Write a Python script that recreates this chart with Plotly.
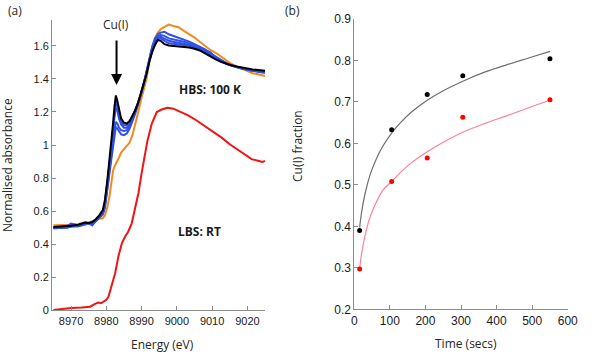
import plotly.graph_objects as go

# ---- panel (a): Cu K-edge XANES ----
energy_hbs = [8965, 8967, 8969, 8970, 8972, 8974, 8975, 8976, 8977, 8978, 8979, 8979.6, 8980.3, 8980.9,
              8981.4, 8981.9, 8982.3, 8982.7, 8983.1, 8983.6, 8984.2, 8985, 8985.8, 8986.6, 8987.4, 8988.2,
              8989, 8989.8, 8990.6, 8991.4, 8992.2, 8993, 8993.8, 8994.6, 8995.4, 8996.5, 8997.7, 8999,
              9000.5, 9002, 9003.5, 9005, 9006.5, 9008, 9009.5, 9011, 9012.5, 9014, 9015.5, 9017, 9018.5,
              9020, 9021.5, 9023, 9025]

hbs_orange = [0.515, 0.515, 0.515, 0.518, 0.522, 0.535, 0.532, 0.538, 0.548, 0.555, 0.558, 0.575, 0.625, 0.69,
              0.78, 0.845, 0.87, 0.885, 0.905, 0.925, 0.955, 0.975, 0.99, 1.015, 1.06, 1.12, 1.195, 1.27,
              1.33, 1.40, 1.50, 1.58, 1.645, 1.68, 1.70, 1.715, 1.728, 1.72, 1.712, 1.69, 1.672, 1.65,
              1.625, 1.598, 1.575, 1.558, 1.535, 1.51, 1.49, 1.475, 1.462, 1.448, 1.434, 1.428, 1.418]

hbs_blue_1 = [0.50, 0.505, 0.512, 0.525, 0.515, 0.53, 0.525, 0.522, 0.548, 0.57, 0.595, 0.65, 0.77, 0.89,
              0.98, 1.10, 1.20, 1.265, 1.24, 1.18, 1.14, 1.12, 1.12, 1.14, 1.17, 1.21, 1.255, 1.31,
              1.37, 1.435, 1.51, 1.57, 1.615, 1.64, 1.645, 1.63, 1.615, 1.612, 1.61, 1.605, 1.60, 1.59,
              1.58, 1.565, 1.545, 1.525, 1.505, 1.49, 1.48, 1.472, 1.465, 1.458, 1.452, 1.448, 1.445]

hbs_blue_2 = [0.495, 0.50, 0.505, 0.51, 0.512, 0.528, 0.53, 0.52, 0.545, 0.565, 0.59, 0.64, 0.76, 0.87,
              0.96, 1.07, 1.17, 1.225, 1.21, 1.16, 1.125, 1.105, 1.105, 1.125, 1.16, 1.205, 1.25, 1.305,
              1.37, 1.44, 1.515, 1.58, 1.625, 1.65, 1.655, 1.645, 1.63, 1.625, 1.62, 1.612, 1.605, 1.595,
              1.585, 1.57, 1.545, 1.53, 1.508, 1.492, 1.48, 1.47, 1.462, 1.455, 1.45, 1.445, 1.44]

hbs_blue_3 = [0.50, 0.498, 0.503, 0.508, 0.51, 0.525, 0.528, 0.518, 0.54, 0.56, 0.585, 0.63, 0.74, 0.85,
              0.93, 1.02, 1.10, 1.14, 1.13, 1.105, 1.09, 1.085, 1.09, 1.11, 1.15, 1.20, 1.25, 1.305,
              1.37, 1.445, 1.52, 1.59, 1.635, 1.66, 1.665, 1.66, 1.645, 1.64, 1.632, 1.625, 1.615, 1.60,
              1.585, 1.575, 1.56, 1.53, 1.51, 1.495, 1.482, 1.47, 1.462, 1.456, 1.45, 1.447, 1.44]

hbs_blue_4 = [0.498, 0.502, 0.50, 0.512, 0.51, 0.52, 0.53, 0.515, 0.54, 0.558, 0.58, 0.62, 0.72, 0.83,
              0.91, 0.99, 1.07, 1.11, 1.10, 1.08, 1.065, 1.06, 1.07, 1.10, 1.14, 1.19, 1.245, 1.305,
              1.37, 1.445, 1.525, 1.595, 1.645, 1.67, 1.68, 1.685, 1.67, 1.66, 1.65, 1.64, 1.625, 1.61,
              1.595, 1.578, 1.555, 1.535, 1.512, 1.495, 1.482, 1.47, 1.462, 1.455, 1.448, 1.44, 1.435]

hbs_black = [0.505, 0.507, 0.510, 0.512, 0.518, 0.532, 0.528, 0.535, 0.552, 0.575, 0.607, 0.668, 0.79, 0.91,
             1.00, 1.13, 1.23, 1.30, 1.27, 1.21, 1.16, 1.135, 1.13, 1.145, 1.175, 1.21, 1.255, 1.31,
             1.37, 1.43, 1.505, 1.565, 1.605, 1.635, 1.63, 1.61, 1.602, 1.60, 1.598, 1.595, 1.59, 1.582,
             1.572, 1.555, 1.535, 1.518, 1.504, 1.492, 1.482, 1.475, 1.468, 1.462, 1.457, 1.454, 1.45]

energy_lbs = [8965, 8967, 8970, 8973, 8975.4, 8976.8, 8977.7, 8978.5, 8979.2, 8980, 8980.6, 8981.5, 8982.5,
              8983.4, 8984.4, 8985.3, 8986.2, 8987.2, 8988.1, 8989.1, 8990, 8990.8, 8991.6, 8992.9, 8994.3,
              8995.7, 8997.3, 8999, 9001, 9003.2, 9005.5, 9008, 9010.5, 9012.7, 9015, 9017.4, 9019.5,
              9021.2, 9023, 9024.3, 9025]
lbs_red = [0.003, 0.008, 0.015, 0.018, 0.023, 0.040, 0.048, 0.044, 0.053, 0.065, 0.083, 0.144, 0.225,
           0.325, 0.406, 0.446, 0.476, 0.527, 0.608, 0.709, 0.829, 0.93, 1.02, 1.13, 1.20,
           1.215, 1.226, 1.22, 1.20, 1.18, 1.15, 1.115, 1.08, 1.045, 1.005, 0.97, 0.94,
           0.915, 0.905, 0.898, 0.905]

# ---- panel (b): Cu(I) fraction vs time ----
time_pts = [15, 105, 205, 305, 550]
frac_rt = [0.39, 0.633, 0.718, 0.763, 0.804]
frac_100k = [0.297, 0.508, 0.565, 0.663, 0.705]

# trend lines
time_fit = [15, 20, 30, 45, 60, 80, 105, 130, 160, 205, 250, 305, 370, 430, 490, 550]
fit_rt = [0.397, 0.431, 0.478, 0.526, 0.559, 0.593, 0.625, 0.650, 0.675, 0.704, 0.727, 0.750, 0.773,
          0.790, 0.806, 0.822]
fit_100k = [0.298, 0.331, 0.377, 0.424, 0.455, 0.487, 0.508, 0.530, 0.553, 0.580, 0.603, 0.627, 0.649,
            0.667, 0.686, 0.704]

fig = go.Figure()

xanes = [
    (energy_hbs, hbs_orange, "#F5891F"),
    (energy_hbs, hbs_blue_4, "#2F50E6"),
    (energy_hbs, hbs_blue_3, "#2F50E6"),
    (energy_hbs, hbs_blue_2, "#2F50E6"),
    (energy_hbs, hbs_blue_1, "#2F50E6"),
    (energy_hbs, hbs_black, "#000000"),
    (energy_lbs, lbs_red, "#F01414"),
]
for xs, ys, col in xanes:
    fig.add_trace(go.Scatter(x=xs, y=ys, mode="lines", line=dict(color=col, width=2),
                             xaxis="x", yaxis="y", showlegend=False))

fig.add_trace(go.Scatter(x=time_fit, y=fit_rt, mode="lines", line=dict(color="#6E6E6E", width=1.2, shape="spline"),
                         xaxis="x2", yaxis="y2", showlegend=False))
fig.add_trace(go.Scatter(x=time_fit, y=fit_100k, mode="lines", line=dict(color="#FF7F9A", width=1.2, shape="spline"),
                         xaxis="x2", yaxis="y2", showlegend=False))
fig.add_trace(go.Scatter(x=time_pts, y=frac_rt, mode="markers", marker=dict(color="#000000", size=5),
                         xaxis="x2", yaxis="y2", showlegend=False))
fig.add_trace(go.Scatter(x=time_pts, y=frac_100k, mode="markers", marker=dict(color="#FF0000", size=5),
                         xaxis="x2", yaxis="y2", showlegend=False))

tick_left = dict(family="Liberation Sans, Arial", size=11, color="#1A1A1A")
tick_right = dict(family="Liberation Sans, Arial", size=12, color="#1A1A1A")
axis_common = dict(showline=True, linecolor="#8C8C8C", linewidth=1, ticks="inside", ticklen=4,
                   tickcolor="#8C8C8C", showgrid=False, zeroline=False, automargin=False)

fig.update_layout(
    width=600, height=353,
    margin=dict(l=0, r=0, t=0, b=0),
    paper_bgcolor="white", plot_bgcolor="white",
    xaxis=dict(domain=[0.0867, 0.4417], range=[8964.6, 9025], tickvals=[8970, 8980, 8990, 9000, 9010, 9020],
               anchor="y", tickfont=tick_left, **axis_common),
    yaxis=dict(domain=[0.1204, 0.9433], range=[0, 1.756], tickvals=[0, 0.2, 0.4, 0.6, 0.8, 1, 1.2, 1.4, 1.6],
               anchor="x", tickfont=tick_left, **axis_common),
    xaxis2=dict(domain=[0.5905, 0.9462], range=[0, 600], tickvals=[0, 100, 200, 300, 400, 500, 600],
                anchor="y2", tickfont=tick_right, **axis_common),
    yaxis2=dict(domain=[0.1238, 0.9462], range=[0.2, 0.9], tickvals=[0.2, 0.3, 0.4, 0.5, 0.6, 0.7, 0.8, 0.9],
                tickformat=".1f", anchor="x2", tickfont=tick_right, **axis_common),
)

title_font = dict(family="Open Sans", size=12, color="#262626")
bold_font = dict(family="Open Sans", size=12, color="#1A1A1A")


def label(text, x, y, xref="paper", yref="paper", font=title_font, angle=0):
    fig.add_annotation(text=text, xref=xref, yref=yref, x=x, y=y, showarrow=False, font=font,
                       textangle=angle, xanchor="center", yanchor="middle")


label("(a)", 15 / 600, 1 - 11 / 353)
label("(b)", 292 / 600, 1 - 11 / 353)
label("Normalised absorbance", 8 / 600, 1 - 165 / 353, angle=-90)
label("Energy (eV)", 162.5 / 600, 1 - 344 / 353)
label("Cu(I) fraction", 297 / 600, 1 - 146 / 353, angle=-90)
label("Time (secs)", 466 / 600, 1 - 343 / 353)

label("Cu(I)", 8982.7, 1.73, "x", "y")
fig.add_annotation(text="", xref="x", yref="y", x=8982.9, y=1.363, ax=0, ay=-46, showarrow=True,
                   arrowhead=2, arrowsize=1.1, arrowwidth=2, arrowcolor="#000000")
label("<b>HBS: 100 K</b>", 9009.4, 1.333, "x", "y", bold_font)
label("<b>LBS: RT</b>", 9006.3, 0.48, "x", "y", bold_font)
label("<b>RT</b>", 634, 0.831, "x2", "y2", bold_font)
label("<b>100 K</b>", 639, 0.705, "x2", "y2", bold_font)

# drop the browser's default body margin so the 600x353 figure fills the window
fig.write_html("out.html", config={"displayModeBar": False},
               post_script="document.body.style.margin='0';")
